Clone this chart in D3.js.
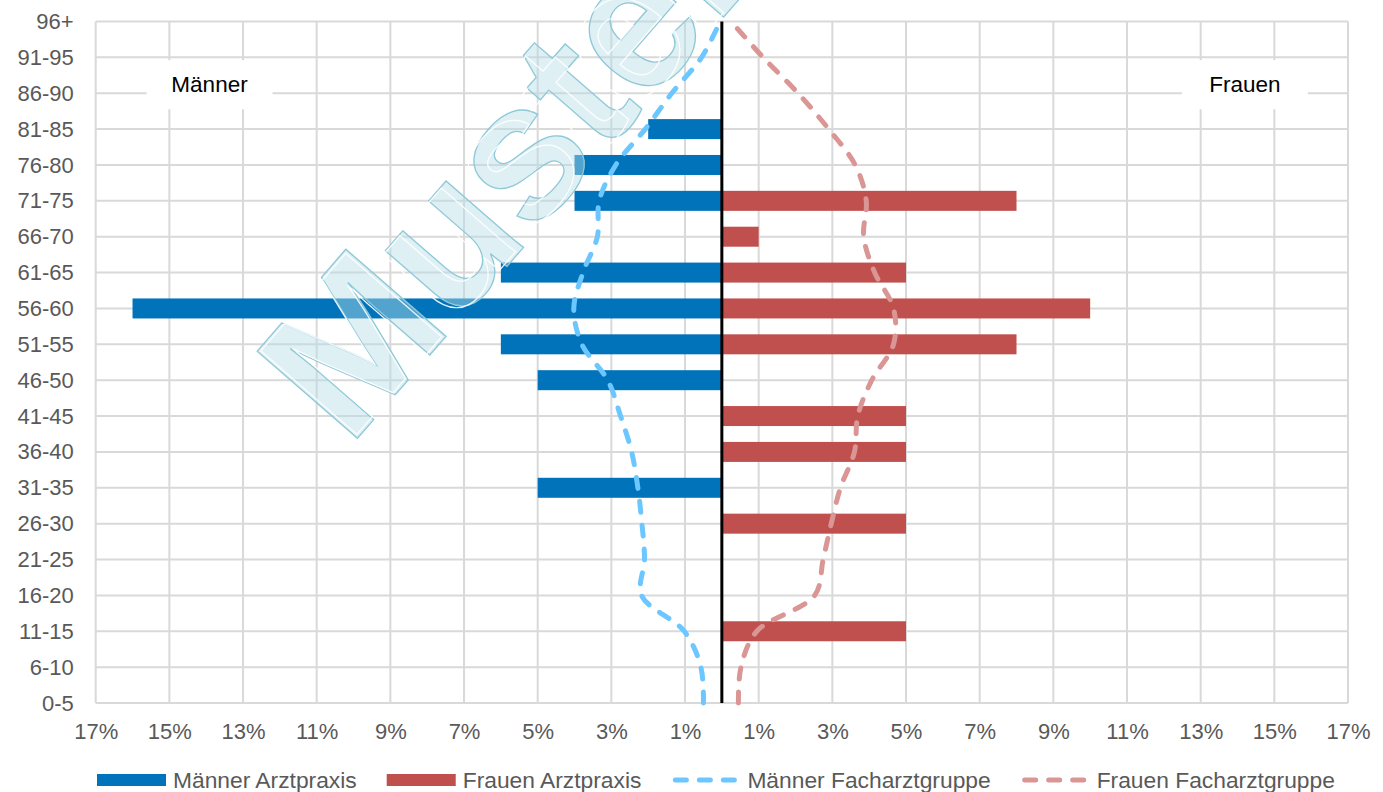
<!DOCTYPE html>
<html>
<head>
<meta charset="utf-8">
<script src="https://cdn.jsdelivr.net/npm/d3@7"></script>
<style>
	body { margin: 0; background: #ffffff; }
	svg { display: block; font-family: "Liberation Sans", Arial, sans-serif; }
</style>
</head>
<body>
<div id="chart"></div>
<script>
// age groups, bottom to top
var categories = ["0-5", "6-10", "11-15", "16-20", "21-25", "26-30", "31-35", "36-40", "41-45", "46-50",
	"51-55", "56-60", "61-65", "66-70", "71-75", "76-80", "81-85", "86-90", "91-95", "96+"];

// percent values
var maennerPraxis = [0, 0, 0, 0, 0, 0, 5, 0, 0, 5, 6, 16, 6, 0, 4, 4, 2, 0, 0, 0];
var frauenPraxis  = [0, 0, 5, 0, 0, 5, 0, 5, 5, 0, 8, 10, 5, 1, 8, 0, 0, 0, 0, 0];
var maennerFach = [0.5, 0.57, 1.02, 2.18, 2.1, 2.17, 2.28, 2.45, 2.75, 3.1, 3.8, 4.02, 3.77, 3.38, 3.33, 2.88, 2.08, 1.36, 0.55, 0.05];
var frauenFach  = [0.45, 0.52, 0.95, 2.52, 2.75, 2.97, 3.22, 3.6, 3.69, 4.07, 4.66, 4.66, 4.15, 3.85, 3.92, 3.62, 2.9, 2.07, 1.12, 0.25];

var xTicks = [-17, -15, -13, -11, -9, -7, -5, -3, -1, 1, 3, 5, 7, 9, 11, 13, 15, 17];

var seriesNames = ["Männer Arztpraxis", "Frauen Arztpraxis", "Männer Facharztgruppe", "Frauen Facharztgruppe"];
var seriesColors = ["#0173bb", "#c0504d", "#6cc6ff", "#da9694"];

var W = 1383, H = 792;
var margin = {left: 95.7, right: 35, top: 21.5, bottom: 89};

var svg = d3.select("#chart").append("svg")
	.attr("width", W)
	.attr("height", H);

var x = d3.scaleLinear().domain([-17, 17]).range([margin.left, W - margin.right]);
var y = d3.scalePoint().domain(categories).range([H - margin.bottom, margin.top]);

var grid = svg.append("g");

// vertical grid
grid.selectAll("line.v").data(xTicks).enter().append("line")
	.attr("x1", d => x(d)).attr("x2", d => x(d))
	.attr("y1", y("96+")).attr("y2", y("0-5"))
	.style("stroke", "#d9d9d9").style("stroke-width", 2);

// horizontal grid
grid.selectAll("line.h").data(categories).enter().append("line")
	.attr("x1", x(-17)).attr("x2", x(17))
	.attr("y1", d => y(d)).attr("y2", d => y(d))
	.style("stroke", "#d9d9d9").style("stroke-width", 2);

// x axis labels
var xAxis = d3.axisBottom(x).tickValues(xTicks).tickSize(0).tickPadding(20)
	.tickFormat(d => Math.abs(d) + "%");
var gx = svg.append("g").attr("transform", "translate(0," + y("0-5") + ")").call(xAxis);
gx.select(".domain").remove();
gx.selectAll("text").attr("font-size", "22px").attr("fill", "#595959")
	.attr("font-family", "Liberation Sans, Arial, sans-serif");

// y axis labels
var yAxis = d3.axisLeft(y).tickSize(0).tickPadding(22);
var gy = svg.append("g").attr("transform", "translate(" + x(-17) + ",0)").call(yAxis);
gy.select(".domain").remove();
gy.selectAll("text").attr("font-size", "22px").attr("fill", "#595959")
	.attr("font-family", "Liberation Sans, Arial, sans-serif");

// Männer / Frauen labels with white boxes
var sideLabels = [{text: "Männer", v: -13.91}, {text: "Frauen", v: 14.2}];
var boxY = y("86-90") - 33;
sideLabels.forEach(function(s) {
	var cx = x(s.v);
	svg.append("rect")
		.attr("x", cx - 63).attr("y", boxY)
		.attr("width", 126).attr("height", 49)
		.attr("fill", "#ffffff");
	svg.append("text")
		.attr("x", cx).attr("y", boxY + 32)
		.attr("text-anchor", "middle")
		.attr("font-size", "22.5px")
		.attr("fill", "#000000")
		.text(s.text);
});

// bars
var barH = 20;
var bars = svg.append("g");
bars.selectAll("rect.m").data(categories).enter().append("rect")
	.filter((d, i) => maennerPraxis[i] > 0)
	.attr("x", (d) => x(-maennerPraxis[categories.indexOf(d)]))
	.attr("y", d => y(d) - barH / 2)
	.attr("width", d => x(0) - x(-maennerPraxis[categories.indexOf(d)]))
	.attr("height", barH)
	.attr("fill", seriesColors[0]);
bars.selectAll("rect.f").data(categories).enter().append("rect")
	.filter((d, i) => frauenPraxis[i] > 0)
	.attr("x", x(0))
	.attr("y", d => y(d) - barH / 2)
	.attr("width", d => x(frauenPraxis[categories.indexOf(d)]) - x(0))
	.attr("height", barH)
	.attr("fill", seriesColors[1]);

// watermark
var wmX = 349, wmY = 448;
var wm = svg.append("g").attr("transform", "translate(" + wmX + "," + wmY + ") rotate(-49)");
wm.append("text")
	.attr("font-size", "193px").attr("font-weight", "bold")
	.attr("fill", "rgba(183,221,232,0.45)")
	.attr("stroke", "#8fc9d8").attr("stroke-width", 1.3)
	.text("Muster");
wm.append("text")
	.attr("x", 3).attr("y", -3)
	.attr("font-size", "185px").attr("font-weight", "bold")
	.attr("textLength", 605)
	.attr("fill", "none")
	.attr("stroke", "#ffffff").attr("stroke-width", 1.2).attr("stroke-opacity", 0.9)
	.text("Muster");

// dashed lines
var line = d3.line()
	.x(d => x(d.v))
	.y(d => y(d.c))
	.curve(d3.curveCatmullRom.alpha(0.5));

var mData = categories.map((c, i) => ({c: c, v: -maennerFach[i]}));
var fData = categories.map((c, i) => ({c: c, v: frauenFach[i]}));

svg.append("path").datum(mData)
	.attr("d", line)
	.attr("fill", "none")
	.attr("stroke", seriesColors[2]).attr("stroke-width", 5)
	.attr("stroke-dasharray", "11,13").attr("stroke-linecap", "round");
svg.append("path").datum(fData)
	.attr("d", line)
	.attr("fill", "none")
	.attr("stroke", seriesColors[3]).attr("stroke-width", 5)
	.attr("stroke-dasharray", "11,13").attr("stroke-linecap", "round");

// zero line
svg.append("line")
	.attr("x1", x(0)).attr("x2", x(0))
	.attr("y1", y("96+")).attr("y2", y("0-5"))
	.style("stroke", "#000000").style("stroke-width", 3);

// legend
var legend = svg.append("g").attr("transform", "translate(97,780)");
var lx = 0;
seriesNames.forEach(function(name, i) {
	var g = legend.append("g").attr("transform", "translate(" + lx + ",0)");
	if (i < 2) {
		g.append("rect").attr("x", 0).attr("y", -6).attr("width", 69).attr("height", 12)
			.attr("fill", seriesColors[i]);
	} else {
		g.append("line").attr("x1", 4).attr("x2", 66).attr("y1", 0).attr("y2", 0)
			.attr("stroke", seriesColors[i]).attr("stroke-width", 5)
			.attr("stroke-dasharray", "11,13").attr("stroke-linecap", "round");
	}
	var t = g.append("text")
		.attr("x", 76).attr("y", 8)
		.attr("font-size", "22.8px").attr("fill", "#595959")
		.text(name);
	lx += 76 + t.node().getComputedTextLength() + 30;
});
</script>
</body>
</html>
